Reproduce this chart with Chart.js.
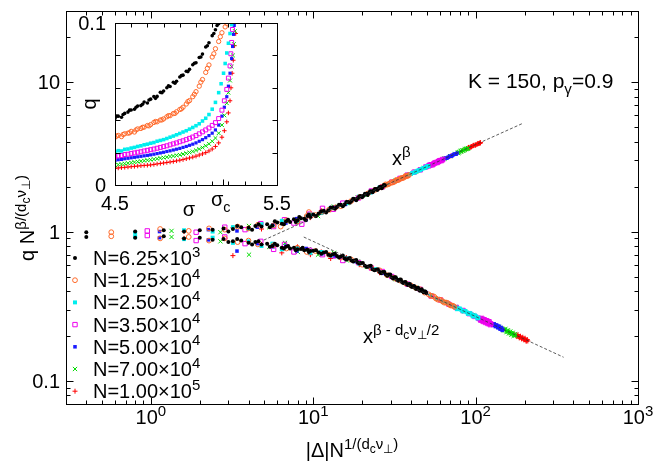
<!DOCTYPE html>
<html><head><meta charset="utf-8">
<script src="https://cdn.jsdelivr.net/npm/chart.js@4.4.1/dist/chart.umd.min.js"></script>
<style>
html,body{margin:0;padding:0;background:#fff;overflow:hidden;}
#wrap{position:relative;width:664px;height:465px;}
#main{position:absolute;left:0;top:0;}
#inset{position:absolute;left:60px;top:0;}
</style></head><body>
<div id="wrap"><canvas id="main" width="664" height="465"></canvas><canvas id="inset" width="240" height="225"></canvas></div>
<script>
// ---------------- DATA ----------------
const seriesMantissa = ['6.25','1.25','2.50','3.50','5.00','7.00','1.00'];
const seriesExponent = ['3','4','4','4','4','4','5'];

const xTickValues = [1, 10, 100, 1000];
const xTickExps = ['0', '1', '2', '3'];
const yTickValues = [0.1, 1, 10];
const yTickLabels = ['0.1', '1', '10'];

const insetXTickValues = [4.5, 5.5];
const insetXTickLabels = ['4.5', '5.5'];
const insetYTickValues = [0, 0.1];
const insetYTickLabels = ['0', '0.1'];
const sigmaC = 5.165;

// fitted power laws (end points)
const fitBeta = [[4.96,0.877],[197,5.33]];
const fitBetaMinus = [[8.74,0.919],[348,0.144]];

// upper branch (x^beta)
const up6k = [[0.4,0.99],[0.8,1.00],[1.2,1.02],[1.6,1.00],[2.0,1.02],[2.4,1.03],[2.8,1.05],[3.2,1.04],[3.6,1.07],[4.0,1.06],[4.4,1.09],[4.8,1.08],[5.2,1.12],[5.6,1.10],[6.0,1.15],[6.4,1.13],[6.8,1.17],[7.2,1.16],[7.6,1.21],[8.0,1.19],[8.4,1.23],[8.8,1.22],[9.2,1.27],[9.6,1.25],[10.0,1.30],[10.8,1.32],[11.6,1.38],[12.4,1.39],[13.2,1.45],[14.0,1.46],[14.8,1.51],[15.6,1.52],[16.4,1.58],[17.2,1.60],[18.0,1.65],[18.8,1.67],[19.6,1.73],[20.4,1.74],[21.2,1.79],[22.0,1.81],[22.8,1.86],[23.6,1.88],[24.4,1.93],[25.2,1.94],[26.0,1.99],[26.8,2.00],[27.6,2.04],
  [3.0,1.00],[3.4,1.09],[4.2,1.03],[4.6,1.12],[5.4,1.07],[5.8,1.17],[6.6,1.12],[7.0,1.20],[7.8,1.16],[8.2,1.25],[9.0,1.19],[9.4,1.30],[10.4,1.27],[11.2,1.37],[12.0,1.34],[12.8,1.45],[13.6,1.42],[14.4,1.51],[15.2,1.48],[16.0,1.58],[16.8,1.56],[17.6,1.66],[18.4,1.62],[19.2,1.72],[20.0,1.70],[20.8,1.79],[21.6,1.76],[22.4,1.86],[23.2,1.83],[24.0,1.93],[24.8,1.90],[25.6,1.99],[26.4,1.95],[27.2,2.05]];
const up12k = [[0.57,0.99],[1.14,1.04],[1.71,1.01],[2.28,1.05],[2.85,1.03],[3.42,1.08],[3.99,1.05],[4.56,1.11],[5.7,1.10],[6.84,1.19],[7.98,1.17],[9.12,1.27],[10.3,1.29],[11.4,1.36],[12.5,1.40],[13.7,1.45],[14.8,1.48],[17.1,1.60],[19.4,1.71],[21.7,1.80],[24.0,1.90],[26.2,1.98],[27.4,2.03],[28.5,2.06],[29.6,2.10],[30.8,2.13],[31.9,2.17],[33.1,2.21],[34.2,2.25],[35.3,2.28],[36.5,2.32],[37.6,2.35],[38.8,2.39],
  [27.9,2.07],[29.1,2.08],[30.2,2.14],[31.4,2.15],[32.5,2.21],[33.6,2.22],[34.8,2.28],[35.9,2.29],[37.1,2.36],[38.2,2.36],[9.4,1.35],[6.3,1.08]];
const up25k = [[0.8,0.98],[1.6,1.02],[2.4,1.00],[3.2,1.07],[4.0,1.04],[4.8,1.12],[5.6,1.09],[6.4,1.18],[8.0,1.18],[9.6,1.30],[11.2,1.33],[12.8,1.44],[16.0,1.55],[19.2,1.72],[22.4,1.82],[25.6,1.97],[28.8,2.07],[32.0,2.19],[35.2,2.29],[38.4,2.40],[40.0,2.43],[41.6,2.48],[43.2,2.53],[44.8,2.57],[46.4,2.62],[48.0,2.66],[49.6,2.71],[51.2,2.75],
  [40.8,2.47],[42.4,2.49],[44.0,2.56],[45.6,2.58],[47.2,2.65],[48.8,2.67],[50.4,2.74]];
const up35k = [[0.95,1.01],[1.9,0.99],[2.85,1.07],[3.8,1.03],[4.75,1.13],[5.7,1.08],[6.65,1.20],[7.6,1.14],[9.5,1.31],[11.4,1.43],[13.3,1.41],[15.2,1.55],[19.0,1.68],[22.8,1.87],[26.6,1.99],[30.4,2.14],[34.2,2.27],[38.0,2.39],[41.8,2.50],[45.6,2.59],[49.4,2.71],[51.3,2.75],[53.2,2.80],[55.1,2.84],[57.0,2.90],[58.9,2.94],[60.8,2.99],[62.7,3.04],
  [52.2,2.79],[54.2,2.80],[56.0,2.88],[58.0,2.90],[59.8,2.98],[61.8,2.99],[8.5,1.12]];
const up50k = [[1.13,1.00],[2.26,1.03],[3.39,1.01],[4.52,1.07],[5.65,1.11],[6.78,1.14],[7.91,1.22],[9.04,1.20],[11.3,1.34],[13.6,1.46],[15.8,1.52],[18.1,1.64],[22.6,1.83],[27.1,2.01],[31.6,2.18],[36.2,2.31],[40.7,2.46],[45.2,2.58],[49.7,2.71],[54.2,2.83],[58.8,2.94],[62.2,3.02],[63.3,3.05],[65.5,3.10],[67.8,3.15],[70.1,3.20],[72.3,3.25],[74.6,3.30],[76.8,3.35],
  [64.4,3.09],[66.6,3.10],[69.0,3.19],[71.2,3.20],[73.4,3.29],[75.7,3.30]];
const up70k = [[1.34,1.01],[2.68,0.99],[4.02,1.09],[5.36,1.07],[6.7,1.17],[8.04,1.15],[9.38,1.30],[10.7,1.27],[13.4,1.47],[16.1,1.55],[18.8,1.69],[21.4,1.76],[26.8,2.01],[32.2,2.19],[37.5,2.36],[42.9,2.52],[48.2,2.67],[53.6,2.82],[59.0,2.95],[64.3,3.08],[69.7,3.20],[75.0,3.31],[77.7,3.37],[79.0,3.40],[80.4,3.43],[81.7,3.46],[83.1,3.49],[84.4,3.51],[85.8,3.54],[87.1,3.57],[88.4,3.59],[89.8,3.62],
  [78.4,3.36],[81.0,3.46],[83.8,3.48],[86.5,3.57],[89.1,3.58]];
const up100k = [[1.6,1.00],[3.2,1.06],[4.8,1.04],[6.4,1.16],[8.0,1.18],[9.6,1.24],[11.2,1.38],[12.8,1.40],[16.0,1.57],[19.2,1.70],[22.4,1.83],[25.6,1.96],[32.0,2.21],[38.4,2.40],[44.8,2.58],[51.2,2.75],[57.6,2.92],[64.0,3.07],[70.4,3.21],[76.8,3.35],[83.2,3.48],[88.0,3.58],[89.6,3.62],[91.2,3.65],[92.8,3.68],[94.4,3.71],[96.0,3.74],[97.6,3.77],[99.2,3.80],[100.8,3.83],[102.4,3.85],[104.0,3.88],[105.6,3.91],[107.2,3.94],
  [90.4,3.66],[93.6,3.67],[96.8,3.78],[100.0,3.79],[103.2,3.89],[106.4,3.90]];

// lower branch (x^(beta - dc nu/2))
const lo6k = [[0.4,0.92],[0.8,0.91],[1.2,0.93],[1.6,0.90],[2.0,0.91],[2.4,0.88],[2.8,0.89],[3.2,0.86],[3.6,0.87],[4.0,0.84],[4.4,0.85],[4.8,0.82],[5.2,0.83],[5.6,0.80],[6.0,0.81],[6.4,0.78],[6.8,0.79],[7.2,0.77],[7.6,0.78],[8.0,0.76],[8.4,0.765],[8.8,0.75],[9.2,0.755],[9.6,0.74],[10.0,0.745],[10.8,0.725],[11.6,0.725],[12.4,0.70],[13.2,0.705],[14.0,0.685],[14.8,0.68],[15.6,0.66],[16.4,0.66],[17.2,0.64],[18.0,0.64],[18.8,0.62],[19.6,0.615],[20.8,0.59],[22.0,0.585],[23.2,0.56],[24.4,0.555],[25.6,0.535],[26.8,0.535],[28.0,0.515],[29.2,0.515],[30.4,0.495],[31.6,0.495],[32.8,0.475],[34.0,0.475],[35.2,0.46],[36.4,0.458],[37.6,0.445],[38.8,0.443],[40.0,0.43],[41.2,0.43],[42.4,0.42],[43.6,0.418],[44.8,0.408],[46.0,0.407],[47.2,0.398],[48.4,0.397],[49.6,0.388],
  [3.0,0.85],[3.4,0.89],[4.2,0.82],[4.6,0.86],[5.4,0.79],[5.8,0.83],[6.6,0.77],[7.0,0.80],[7.8,0.75],[8.6,0.78],[9.4,0.73],[10.4,0.75],[11.2,0.71],[12.0,0.73],[12.8,0.69],[13.6,0.71],[14.4,0.67],[15.2,0.69],[16.0,0.65],[16.8,0.665],[17.6,0.63],[18.4,0.645],[19.2,0.61],[20.2,0.615],[21.4,0.58],[22.6,0.59],[23.8,0.55],[25.0,0.56],[26.2,0.525],[27.4,0.535],[28.6,0.505],[29.8,0.515],[31.0,0.485],[32.2,0.495],[33.4,0.468],[34.6,0.477],[35.8,0.452],[37.0,0.46],[38.2,0.438],[39.4,0.445],[40.6,0.425],[41.8,0.432],[43.0,0.413],[44.2,0.42],[45.4,0.402],[46.6,0.41],[47.8,0.392],[49.0,0.397]];
const lo12k = [[0.57,0.93],[1.14,0.90],[1.71,0.92],[2.28,0.87],[2.85,0.90],[3.42,0.85],[3.99,0.87],[4.56,0.82],[5.7,0.81],[6.84,0.77],[7.98,0.78],[9.12,0.73],[10.3,0.74],[12.5,0.70],[14.8,0.67],[17.1,0.65],[20.0,0.60],[22.8,0.57],[25.6,0.55],[28.5,0.51],[31.4,0.49],[34.2,0.47],[37.1,0.45],[40.0,0.435],[42.8,0.42],[45.6,0.41],[48.5,0.39],[51.3,0.38],[54.2,0.37],[57.0,0.356],[59.9,0.35],[62.7,0.34],[65.6,0.335],[68.4,0.326],[71.3,0.32],[74.1,0.313],
  [52.7,0.372],[55.6,0.366],[58.5,0.35],[61.3,0.348],[64.2,0.334],[67.0,0.333],[69.9,0.32],[72.7,0.318]];
const lo25k = [[0.8,0.92],[1.6,0.89],[2.4,0.91],[3.2,0.84],[4.0,0.86],[4.8,0.80],[5.6,0.83],[6.4,0.76],[8.0,0.77],[9.6,0.72],[11.2,0.73],[12.8,0.69],[16.0,0.66],[19.2,0.61],[24.0,0.56],[28.8,0.51],[33.6,0.475],[38.4,0.445],[43.2,0.42],[48.0,0.395],[52.8,0.375],[57.6,0.355],[62.4,0.342],[67.2,0.33],[72.0,0.318],[75.2,0.311],[78.4,0.306],[81.6,0.299],[84.8,0.294],[88.0,0.288],[91.2,0.284],[94.4,0.278],[97.6,0.274],[100.8,0.27],[104.0,0.264],
  [76.8,0.302],[80.0,0.305],[83.2,0.292],[86.4,0.294],[89.6,0.281],[92.8,0.284],[96.0,0.27],[99.2,0.274],[102.4,0.262]];
const lo35k = [[0.95,0.94],[1.9,0.87],[2.85,0.92],[3.8,0.83],[4.75,0.86],[5.7,0.76],[6.65,0.82],[7.6,0.73],[9.5,0.75],[11.4,0.70],[13.3,0.69],[15.2,0.64],[19.0,0.62],[22.8,0.57],[26.6,0.54],[30.4,0.50],[38.0,0.445],[45.6,0.41],[53.2,0.37],[60.8,0.348],[68.4,0.326],[76.0,0.31],[83.6,0.296],[91.2,0.282],[98.8,0.27],[104.5,0.262],[106.4,0.26],[108.3,0.258],[110.2,0.256],[112.1,0.254],[114.0,0.252],[116.0,0.25],[118.0,0.248],[120.0,0.245],[122.0,0.243],[124.0,0.241],
  [107.4,0.255],[109.2,0.262],[111.2,0.25],[113.0,0.257],[115.0,0.246],[117.0,0.253],[119.0,0.242],[121.0,0.249],[123.0,0.238]];
const lo50k = [[1.13,0.91],[2.26,0.88],[3.39,0.74],[4.52,0.83],[5.65,0.79],[6.78,0.80],[7.91,0.74],[9.04,0.77],[11.3,0.71],[13.6,0.68],[15.8,0.66],[18.1,0.63],[22.6,0.58],[27.1,0.525],[31.6,0.49],[40.7,0.43],[49.7,0.39],[58.8,0.352],[67.8,0.33],[76.8,0.31],[85.9,0.292],[94.9,0.278],[104.0,0.266],[113.0,0.255],[122.0,0.244],[126.6,0.24],[128.9,0.238],[131.2,0.236],[133.4,0.234],[135.7,0.232],[138.0,0.229],[140.2,0.227],[142.5,0.225],[144.7,0.223],[147.0,0.221],
  [127.8,0.235],[130.0,0.241],[132.3,0.231],[134.6,0.237],[136.8,0.227],[139.1,0.233],[141.4,0.222],[143.6,0.228],[145.8,0.218]];
const lo70k = [[1.34,0.92],[2.68,0.86],[4.02,0.70],[5.36,0.79],[6.7,0.84],[8.04,0.73],[9.38,0.76],[10.7,0.70],[13.4,0.72],[16.1,0.64],[18.8,0.63],[21.4,0.58],[26.8,0.53],[32.2,0.48],[42.9,0.42],[53.6,0.37],[64.3,0.337],[75.0,0.313],[85.8,0.292],[96.5,0.276],[107.2,0.262],[118.0,0.25],[128.6,0.238],[139.4,0.229],[145.0,0.224],[148.4,0.222],[151.1,0.219],[153.8,0.217],[156.5,0.215],[159.2,0.213],[162.0,0.211],[164.8,0.209],[167.5,0.207],[170.2,0.205],[172.9,0.203],[175.6,0.201],
  [149.8,0.218],[152.5,0.223],[155.2,0.212],[157.9,0.218],[160.6,0.208],[163.4,0.214],[166.2,0.204],[168.9,0.21],[171.6,0.2],[174.3,0.206]];
const lo100k = [[1.6,0.90],[3.2,0.69],[4.8,0.82],[6.4,0.72],[8.0,0.79],[9.6,0.70],[11.2,0.73],[12.8,0.66],[16.0,0.67],[19.2,0.60],[22.4,0.58],[25.6,0.53],[32.0,0.48],[44.8,0.41],[57.6,0.355],[70.4,0.322],[83.2,0.296],[96.0,0.276],[108.8,0.259],[121.6,0.244],[134.4,0.233],[147.2,0.222],[160.0,0.212],[172.8,0.205],[177.6,0.202],[180.8,0.200],[184.0,0.198],[187.2,0.196],[190.4,0.195],[193.6,0.193],[196.8,0.191],[200.0,0.190],[203.2,0.188],[206.4,0.187],[209.6,0.185],
  [179.2,0.198],[182.4,0.204],[185.6,0.194],[188.8,0.199],[192.0,0.191],[195.2,0.196],[198.4,0.188],[201.6,0.193],[204.8,0.184],[208.0,0.189]];

// inset: q vs sigma
const in6k = [[4.50,.0410],[4.52,.0425],[4.54,.0418],[4.56,.0442],[4.58,.0450],[4.60,.0463],[4.62,.0468],[4.64,.0487],[4.66,.0490],[4.68,.0512],[4.70,.0506],[4.72,.0530],[4.74,.0546],[4.76,.0547],[4.78,.0572],[4.80,.0580],[4.82,.0600],[4.84,.0608],[4.86,.0634],[4.88,.0640],[4.90,.0667],[4.92,.0678],[4.94,.0702],[4.96,.0714],[4.98,.0742],[5.00,.0755],[5.02,.0787],[5.04,.0808],[5.06,.0852],[5.08,.0878],[5.10,.0922],[5.12,.0958],[5.14,.0995],
  [4.51,.0425],[4.55,.0435],[4.59,.0462],[4.63,.0480],[4.67,.0498],[4.71,.0525],[4.75,.0535],[4.79,.0570],[4.83,.0612],[4.87,.0628],[4.91,.0675],[4.95,.0700],[4.99,.0752],[5.03,.0790],[5.07,.0860],[5.11,.0935],[5.13,.0985]];
const in12k = [[4.50,.0295],[4.52,.0306],[4.54,.0299],[4.56,.0316],[4.58,.0320],[4.60,.0331],[4.62,.0327],[4.64,.0346],[4.66,.0349],[4.68,.0357],[4.70,.0367],[4.72,.0373],[4.74,.0386],[4.76,.0390],[4.78,.0401],[4.80,.0408],[4.82,.0421],[4.84,.0428],[4.86,.0441],[4.88,.0452],[4.90,.0466],[4.92,.0480],[4.94,.0500],[4.96,.0521],[4.98,.0545],[5.00,.0576],[5.02,.0610],[5.04,.0651],[5.06,.0695],[5.08,.0741],[5.10,.0790],[5.12,.0841],[5.14,.0886],[5.16,.0940],[5.18,.0976],[5.19,.0998],
  [4.51,.0302],[4.55,.0312],[4.59,.0322],[4.63,.0340],[4.67,.0356],[4.71,.0365],[4.75,.0392],[4.79,.0402],[4.83,.0428],[4.87,.0442],[4.91,.0470],[4.95,.0515],[4.99,.0560],[5.03,.0635],[5.07,.0720],[5.11,.0810],[5.15,.0915]];
const in25k = [[4.50,.0205],[4.52,.0212],[4.54,.0210],[4.56,.0220],[4.58,.0222],[4.60,.0228],[4.62,.0232],[4.64,.0238],[4.66,.0242],[4.68,.0248],[4.70,.0252],[4.72,.0258],[4.74,.0262],[4.76,.0270],[4.78,.0275],[4.80,.0280],[4.82,.0287],[4.84,.0295],[4.86,.0302],[4.88,.0310],[4.90,.0318],[4.92,.0327],[4.94,.0335],[4.96,.0345],[4.98,.0355],[5.00,.0366],[5.02,.0378],[5.04,.0395],[5.06,.0412],[5.08,.0435],[5.10,.0468],[5.12,.0510],[5.14,.0570],[5.155,.0625],[5.17,.0690],[5.18,.0750],[5.19,.0815],[5.20,.0875],[5.21,.0935],[5.22,.0990]];
const in35k = [[4.50,.0175],[4.52,.0180],[4.54,.0182],[4.56,.0188],[4.58,.0190],[4.60,.0195],[4.62,.0198],[4.64,.0202],[4.66,.0205],[4.68,.0210],[4.70,.0214],[4.72,.0218],[4.74,.0222],[4.76,.0227],[4.78,.0232],[4.80,.0237],[4.82,.0242],[4.84,.0248],[4.86,.0254],[4.88,.0260],[4.90,.0267],[4.92,.0273],[4.94,.0280],[4.96,.0288],[4.98,.0296],[5.00,.0305],[5.02,.0316],[5.04,.0328],[5.06,.0340],[5.08,.0352],[5.10,.0368],[5.12,.0385],[5.14,.0410],[5.16,.0462],[5.175,.0520],[5.19,.0590],[5.20,.0660],[5.21,.0735],[5.215,.0810],[5.22,.0880],[5.225,.0960]];
const in50k = [[4.50,.0152],[4.52,.0156],[4.54,.0158],[4.56,.0162],[4.58,.0165],[4.60,.0168],[4.62,.0171],[4.64,.0174],[4.66,.0177],[4.68,.0180],[4.70,.0183],[4.72,.0186],[4.74,.0190],[4.76,.0194],[4.78,.0198],[4.80,.0202],[4.82,.0207],[4.84,.0211],[4.86,.0216],[4.88,.0221],[4.90,.0226],[4.92,.0232],[4.94,.0238],[4.96,.0245],[4.98,.0252],[5.00,.0260],[5.02,.0270],[5.04,.0280],[5.06,.0292],[5.08,.0305],[5.10,.0320],[5.12,.0340],[5.14,.0370],[5.16,.0425],[5.175,.0480],[5.19,.0545],[5.20,.0610],[5.21,.0690],[5.22,.0780],[5.226,.0855],[5.232,.0930],[5.236,.0985]];
const in70k = [[4.50,.0123],[4.52,.0126],[4.54,.0129],[4.56,.0132],[4.58,.0135],[4.60,.0138],[4.62,.0141],[4.64,.0144],[4.66,.0147],[4.68,.0150],[4.70,.0153],[4.72,.0156],[4.74,.0159],[4.76,.0162],[4.78,.0166],[4.80,.0169],[4.82,.0172],[4.84,.0176],[4.86,.0179],[4.88,.0183],[4.90,.0186],[4.92,.0191],[4.94,.0196],[4.96,.0201],[4.98,.0207],[5.00,.0214],[5.02,.0222],[5.04,.0231],[5.06,.0242],[5.08,.0254],[5.10,.0270],[5.12,.0290],[5.14,.0320],[5.16,.0370],[5.175,.0430],[5.19,.0505],[5.20,.0570],[5.21,.0645],[5.22,.0730],[5.228,.0800],[5.234,.0870],[5.24,.0950]];
const in100k = [[4.50,.0103],[4.52,.0105],[4.54,.0107],[4.56,.0109],[4.58,.0111],[4.60,.0113],[4.62,.0115],[4.64,.0117],[4.66,.0119],[4.68,.0121],[4.70,.0122],[4.72,.0124],[4.74,.0127],[4.76,.0130],[4.78,.0133],[4.80,.0136],[4.82,.0139],[4.84,.0142],[4.86,.0145],[4.88,.0149],[4.90,.0153],[4.92,.0157],[4.94,.0162],[4.96,.0167],[4.98,.0172],[5.00,.0178],[5.02,.0185],[5.04,.0192],[5.06,.0200],[5.08,.0210],[5.10,.0222],[5.12,.0238],[5.14,.0260],[5.16,.0295],[5.175,.0335],[5.19,.0390],[5.20,.0445],[5.21,.0520],[5.216,.0600],[5.223,.0690],[5.23,.0770],[5.238,.0860],[5.245,.0935]];

const upperSets = [up6k, up12k, up25k, up35k, up50k, up70k, up100k];
const lowerSets = [lo6k, lo12k, lo25k, lo35k, lo50k, lo70k, lo100k];
const insetSets = [in6k, in12k, in25k, in35k, in50k, in70k, in100k];

// ---------------- STYLE ----------------
const FONT = '"Liberation Sans", Arial, Helvetica, sans-serif';
const FS = 20;
const styles = [
  {c:'#000000', ps:'circle',   r:2.0, fill:true},
  {c:'#ff6a2a', ps:'circle',   r:2.4, fill:false},
  {c:'#00eeee', ps:'rect',     r:2.8, fill:true},
  {c:'#ee00ee', ps:'rect',     r:3.1, fill:false},
  {c:'#1a1aff', ps:'rect',     r:2.5, fill:true},
  {c:'#00dd00', ps:'crossRot', r:3.0, fill:false},
  {c:'#ff0000', ps:'cross',    r:2.5, fill:false}
];

function rich(ctx, parts, x, y, align, S){
  const spec = {n:[1,0], sup:[0.75,-0.42], sub:[0.72,0.28], ss:[0.6,-0.2]};
  let w = 0; const m = [];
  for (const [t,k] of parts){
    const [f,dy] = spec[k];
    ctx.font = (S*f) + 'px ' + FONT;
    const tw = ctx.measureText(t).width;
    m.push([t, S*f, dy*S, tw]); w += tw;
  }
  let cx = align === 'center' ? x - w/2 : (align === 'right' ? x - w : x);
  ctx.textBaseline = 'alphabetic'; ctx.textAlign = 'left';
  for (const [t,sz,dy,tw] of m){ ctx.font = sz + 'px ' + FONT; ctx.fillText(t, cx, y + dy); cx += tw; }
  return w;
}

function marker(ctx, st, x, y){
  ctx.save(); ctx.strokeStyle = st.c; ctx.fillStyle = st.c; ctx.lineWidth = 1;
  const r = st.r; ctx.beginPath();
  if (st.ps === 'circle'){ ctx.arc(x, y, r, 0, Math.PI*2); st.fill ? ctx.fill() : ctx.stroke(); }
  else if (st.ps === 'rect'){ const s = r*Math.SQRT1_2; ctx.rect(x-s, y-s, 2*s, 2*s); st.fill ? ctx.fill() : ctx.stroke(); }
  else if (st.ps === 'crossRot'){ const s = r*Math.SQRT1_2; ctx.moveTo(x-s,y-s); ctx.lineTo(x+s,y+s); ctx.moveTo(x-s,y+s); ctx.lineTo(x+s,y-s); ctx.stroke(); }
  else { ctx.moveTo(x-r,y); ctx.lineTo(x+r,y); ctx.moveTo(x,y-r); ctx.lineTo(x,y+r); ctx.stroke(); }
  ctx.restore();
}

function pointDataset(pairs, st, scale){
  return {
    data: pairs.map(([x,y]) => ({x, y})),
    showLine: false,
    pointStyle: st.ps,
    pointRadius: st.r * (scale || 1),
    pointBackgroundColor: st.fill ? st.c : 'rgba(0,0,0,0)',
    pointBorderColor: st.c,
    pointBorderWidth: st.fill ? 0 : 1
  };
}
function lineDataset(pairs){
  return {
    data: pairs.map(([x,y]) => ({x, y})),
    showLine: true, fill: false, pointRadius: 0,
    borderColor: '#333', borderWidth: 0.8, borderDash: [3,2]
  };
}

// ---------------- MAIN CHART ----------------
const mainDeco = {
  id: 'mainDeco',
  afterDraw(chart){
    const ctx = chart.ctx, a = chart.chartArea, xs = chart.scales.x, ys = chart.scales.y;
    ctx.save();
    ctx.strokeStyle = '#000'; ctx.lineWidth = 1; ctx.fillStyle = '#000';
    const L = Math.round(a.left)+0.5, R = Math.round(a.right)+0.5, T = Math.round(a.top)+0.5, B = Math.round(a.bottom)+0.5;
    ctx.strokeRect(L, T, R-L, B-T);
    ctx.beginPath();
    for (let d=-1; d<=3; d++) for (let m=1; m<=9; m++){
      const v = m*Math.pow(10,d);
      if (v < xs.min*0.999 || v > xs.max*1.001) continue;
      const px = Math.round(xs.getPixelForValue(v))+0.5, len = m===1 ? 7 : 4;
      ctx.moveTo(px,B); ctx.lineTo(px,B-len); ctx.moveTo(px,T); ctx.lineTo(px,T+len);
    }
    for (let d=-2; d<=1; d++) for (let m=1; m<=9; m++){
      const v = m*Math.pow(10,d);
      if (v < ys.min*0.999 || v > ys.max*1.001) continue;
      const py = Math.round(ys.getPixelForValue(v))+0.5, len = m===1 ? 7 : 4;
      ctx.moveTo(L,py); ctx.lineTo(L+len,py); ctx.moveTo(R,py); ctx.lineTo(R-len,py);
    }
    ctx.stroke();
    xTickValues.forEach((v,i) => rich(ctx, [['10','n'],[xTickExps[i],'sup']], xs.getPixelForValue(v), 424, 'center', FS));
    yTickValues.forEach((v,i) => rich(ctx, [[yTickLabels[i],'n']], 60, ys.getPixelForValue(v)+7, 'right', FS));
    rich(ctx, [['|\u0394|N','n'],['1/(d','sup'],['c','ss'],['\u03bd','sup'],['\u22a5','ss'],[')','sup']], (a.left+a.right)/2, 457, 'center', FS);
    ctx.save(); ctx.translate(34, 218); ctx.rotate(-Math.PI/2);
    rich(ctx, [['q N','n'],['\u03b2/(d','sup'],['c','ss'],['\u03bd','sup'],['\u22a5','ss'],[')','sup']], 0, 0, 'center', FS);
    ctx.restore();
    rich(ctx, [['K = 150, p','n'],['\u03b3','sub'],['=0.9','n']], 468, 88, 'left', 21);
    rich(ctx, [['x','n'],['\u03b2','sup']], 392, 165, 'left', FS);
    rich(ctx, [['x','n'],['\u03b2 - d','sup'],['c','ss'],['\u03bd','sup'],['\u22a5','ss'],['/2','sup']], 363, 343, 'left', FS);
    seriesMantissa.forEach((mt,i) => {
      const yc = 258 + 22.2*i;
      marker(ctx, styles[i], 75, yc);
      rich(ctx, [['N=' + mt + '\u00d710','n'],[seriesExponent[i],'sup']], 93, yc+7, 'left', FS);
    });
    ctx.restore();
  }
};

const mainDatasets = [lineDataset(fitBeta), lineDataset(fitBetaMinus)];
upperSets.forEach((u,i) => mainDatasets.push(pointDataset(u.concat(lowerSets[i]), styles[i])));

new Chart(document.getElementById('main'), {
  type: 'scatter',
  data: { datasets: mainDatasets },
  options: {
    responsive: false, animation: false, devicePixelRatio: 1, events: [],
    layout: { padding: { left: 66, right: 26, top: 11, bottom: 61 } },
    plugins: { legend: { display: false }, tooltip: { enabled: false } },
    scales: {
      x: { type: 'logarithmic', min: 0.3, max: 1000, display: false },
      y: { type: 'logarithmic', min: 0.07, max: 30, display: false }
    }
  },
  plugins: [mainDeco]
});

// ---------------- INSET ----------------
const insetDeco = {
  id: 'insetDeco',
  beforeDraw(chart){
    const ctx = chart.ctx, a = chart.chartArea;
    ctx.save(); ctx.fillStyle = '#fff'; ctx.fillRect(a.left, a.top, a.right-a.left, a.bottom-a.top); ctx.restore();
  },
  afterDraw(chart){
    const ctx = chart.ctx, a = chart.chartArea, xs = chart.scales.x, ys = chart.scales.y;
    ctx.save(); ctx.strokeStyle = '#000'; ctx.fillStyle = '#000'; ctx.lineWidth = 1;
    const L = Math.round(a.left)+0.5, R = Math.round(a.right)+0.5, T = Math.round(a.top)+0.5, B = Math.round(a.bottom)+0.5;
    ctx.strokeRect(L, T, R-L, B-T);
    ctx.beginPath();
    for (let k=1; k<10; k++){
      const px = Math.round(xs.getPixelForValue(4.5 + k*0.1))+0.5;
      ctx.moveTo(px,B); ctx.lineTo(px,B-4); ctx.moveTo(px,T); ctx.lineTo(px,T+4);
    }
    const pc = Math.round(xs.getPixelForValue(sigmaC))+0.5;
    ctx.moveTo(pc,B); ctx.lineTo(pc,B-6);
    for (let k=1; k<5; k++){
      const py = Math.round(ys.getPixelForValue(k*0.02))+0.5;
      ctx.moveTo(L,py); ctx.lineTo(L+5,py); ctx.moveTo(R,py); ctx.lineTo(R-5,py);
    }
    ctx.stroke();
    insetXTickValues.forEach((v,i) => rich(ctx, [[insetXTickLabels[i],'n']], xs.getPixelForValue(v), 210, 'center', FS));
    insetYTickValues.forEach((v,i) => rich(ctx, [[insetYTickLabels[i],'n']], a.left-9, ys.getPixelForValue(v)+7, 'right', FS));
    rich(ctx, [['\u03c3','n'],['c','sub']], xs.getPixelForValue(sigmaC)-2, 206, 'center', FS);
    rich(ctx, [['\u03c3','n']], 129, 216, 'center', FS);
    ctx.save(); ctx.translate(36, 104); ctx.rotate(-Math.PI/2);
    rich(ctx, [['q','n']], 0, 0, 'center', FS);
    ctx.restore();
    ctx.restore();
  }
};

const insetDatasets = insetSets.map((s,i) => pointDataset(s, styles[i], 0.9));

new Chart(document.getElementById('inset'), {
  type: 'scatter',
  data: { datasets: insetDatasets },
  options: {
    responsive: false, animation: false, devicePixelRatio: 1, events: [],
    layout: { padding: { left: 55, right: 23, top: 23, bottom: 40 } },
    plugins: { legend: { display: false }, tooltip: { enabled: false } },
    scales: {
      x: { type: 'linear', min: 4.5, max: 5.5, display: false },
      y: { type: 'linear', min: 0, max: 0.1, display: false }
    }
  },
  plugins: [insetDeco]
});
</script></body></html>
